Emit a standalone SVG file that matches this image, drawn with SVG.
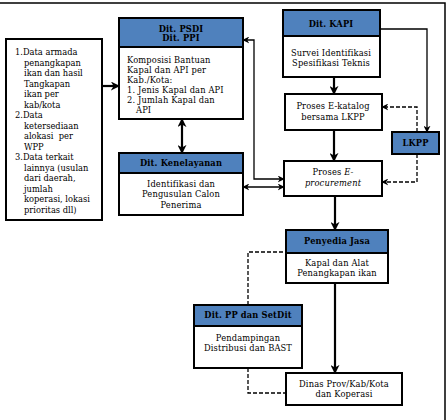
<svg xmlns="http://www.w3.org/2000/svg" width="448" height="420" viewBox="0 0 448 420">
<defs>
<marker id="ah" viewBox="0 0 10 10" refX="9" refY="5" markerWidth="7" markerHeight="7" markerUnits="userSpaceOnUse" orient="auto-start-reverse">
<path d="M0,0 L10,5 L0,10 L3,5 Z" fill="#000"/>
</marker>
<marker id="ahb" viewBox="0 0 10 10" refX="9" refY="5" markerWidth="9" markerHeight="9" markerUnits="userSpaceOnUse" orient="auto-start-reverse">
<path d="M0,0 L10,5 L0,10 L3,5 Z" fill="#000"/>
</marker>
</defs>
<style>
.box{fill:#fff;stroke:#000;stroke-width:2}
.hd{fill:#4f81bd;stroke:#000;stroke-width:2}
.t{font-family:"DejaVu Serif","Liberation Serif",serif;font-size:8.3px;letter-spacing:0.15px;fill:#000}
.c{text-anchor:middle}
.b{font-weight:bold}
.thin{fill:none;stroke:#000;stroke-width:1.3}
.thick{fill:none;stroke:#000;stroke-width:2.2}
.dash{fill:none;stroke:#000;stroke-width:1.3;stroke-dasharray:4,2}
</style>
<rect width="448" height="420" fill="#fff"/>
<path d="M0,3 H445 V420" fill="none" stroke="#000" stroke-width="1.5"/>

<g id="connectors">
<path class="thick" d="M102,86 H119" marker-end="url(#ahb)"/>
<path class="thick" d="M182,119 V153" marker-start="url(#ahb)" marker-end="url(#ahb)"/>
<path class="thick" d="M334,77 V94" marker-end="url(#ahb)"/>
<path class="thick" d="M334,130 V161" marker-end="url(#ahb)"/>
<path class="thin" d="M380,29 H427 V132" marker-end="url(#ah)"/>
<path class="dash" d="M417,132 V107 H382" marker-end="url(#ah)"/>
<path class="dash" d="M417,154 V182 H382" marker-end="url(#ah)"/>
<path class="thin" d="M284,179 H254 V40 H243" marker-start="url(#ah)" marker-end="url(#ah)"/>
<path class="thin" d="M243,187 H284" marker-start="url(#ah)" marker-end="url(#ah)"/>
<path class="thick" d="M335,196 V230" marker-end="url(#ahb)"/>
<path class="thick" d="M335,283 V373" marker-end="url(#ahb)"/>
<path class="dash" d="M248,305 V252 H286"/>
<path class="dash" d="M248,368 V393 H286"/>
</g>

<g id="data">
<rect class="box" x="6" y="39" width="96" height="181"/>
<text class="t" style="letter-spacing:0"><tspan x="15" y="55">1.Data armada</tspan><tspan x="24" y="65.5">penangkapan</tspan><tspan x="24" y="76">ikan dan hasil</tspan><tspan x="24" y="86.5">Tangkapan</tspan><tspan x="24" y="97">ikan per</tspan><tspan x="24" y="107.5">kab/kota</tspan><tspan x="15" y="118">2.Data</tspan><tspan x="24" y="128.5">ketersediaan</tspan><tspan x="24" y="139">alokasi&#160; per</tspan><tspan x="24" y="149.5">WPP</tspan><tspan x="15" y="160">3.Data terkait</tspan><tspan x="24" y="170.5">lainnya (usulan</tspan><tspan x="24" y="181">dari daerah,</tspan><tspan x="24" y="191.5">jumlah</tspan><tspan x="24" y="202">koperasi, lokasi</tspan><tspan x="24" y="212.5">prioritas dll)</tspan></text>
</g>

<g id="psdi">
<rect class="box" x="119" y="18" width="124" height="101"/>
<rect class="hd" x="119" y="18" width="124" height="29"/>
<text class="t c b" x="181" y="32">Dit. PSDI</text>
<text class="t c b" x="181" y="41">Dit. PPI</text>
<text class="t"><tspan x="127" y="63">Komposisi Bantuan</tspan><tspan x="127" y="73">Kapal dan API per</tspan><tspan x="127" y="83">Kab./Kota:</tspan><tspan x="127" y="93">1. Jenis Kapal dan API</tspan><tspan x="127" y="103">2. Jumlah Kapal dan</tspan><tspan x="136" y="113">API</tspan></text>
</g>

<g id="kenelayanan">
<rect class="box" x="119" y="153" width="124" height="62"/>
<rect class="hd" x="119" y="153" width="124" height="20"/>
<text class="t c b" x="181" y="166">Dit. Kenelayanan</text>
<text class="t c"><tspan x="181" y="187">Identifikasi dan</tspan><tspan x="181" y="197">Pengusulan Calon</tspan><tspan x="181" y="207.5">Penerima</tspan></text>
</g>

<g id="kapi">
<rect class="box" x="283" y="10" width="97" height="67"/>
<rect class="hd" x="283" y="10" width="97" height="26"/>
<text class="t c b" x="331" y="27">Dit. KAPI</text>
<text class="t c"><tspan x="331" y="56">Survei Identifikasi</tspan><tspan x="331" y="66">Spesifikasi Teknis</tspan></text>
</g>

<g id="ekatalog">
<rect class="box" x="285" y="94" width="97" height="36"/>
<text class="t c"><tspan x="333" y="109">Proses E-katalog</tspan><tspan x="333" y="120">bersama LKPP</tspan></text>
</g>

<g id="lkpp">
<rect class="hd" x="392" y="132" width="47" height="22"/>
<text class="t c b" x="415.5" y="146">LKPP</text>
</g>

<g id="eproc">
<rect class="box" x="284" y="161" width="98" height="35"/>
<text class="t c"><tspan x="333" y="175">Proses <tspan font-style="italic">E-</tspan></tspan><tspan x="333" y="186" font-style="italic">procurement</tspan></text>
</g>

<g id="penyedia">
<rect class="box" x="286" y="230" width="102" height="53"/>
<rect class="hd" x="286" y="230" width="102" height="23"/>
<text class="t c b" x="337" y="244">Penyedia Jasa</text>
<text class="t c"><tspan x="337" y="266">Kapal dan Alat</tspan><tspan x="337" y="276">Penangkapan ikan</tspan></text>
</g>

<g id="pp">
<rect class="box" x="194" y="305" width="108" height="63"/>
<rect class="hd" x="194" y="305" width="108" height="21"/>
<text class="t c b" x="248" y="318">Dit. PP dan SetDit</text>
<text class="t c"><tspan x="248" y="341">Pendampingan</tspan><tspan x="248" y="351">Distribusi dan BAST</tspan></text>
</g>

<g id="dinas">
<rect class="box" x="286" y="373" width="116" height="32"/>
<text class="t c"><tspan x="344" y="387">Dinas Prov/Kab/Kota</tspan><tspan x="344" y="397">dan Koperasi</tspan></text>
</g>
</svg>
